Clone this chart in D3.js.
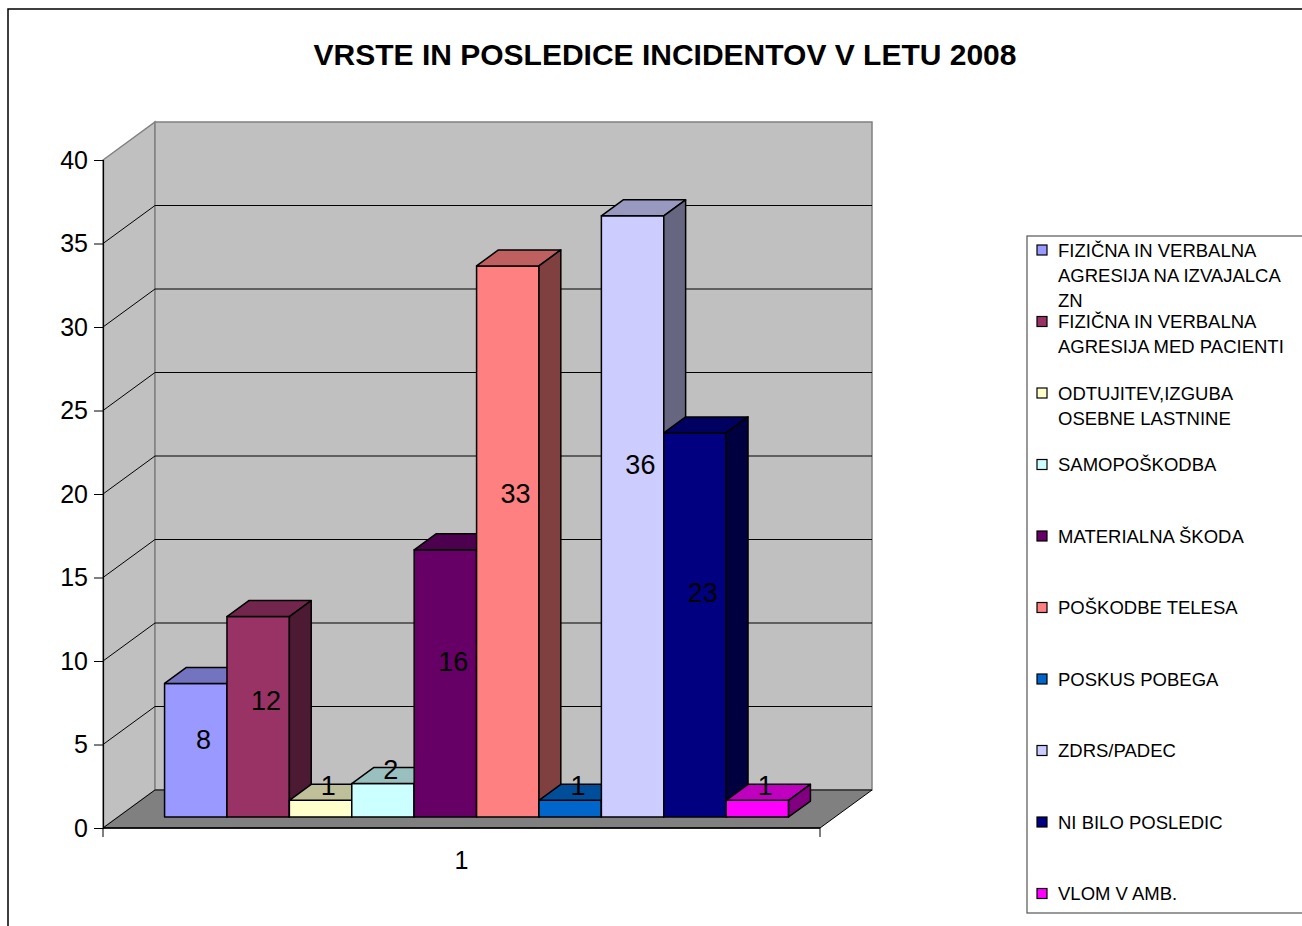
<!DOCTYPE html>
<html>
<head>
<meta charset="utf-8">
<script src="https://cdn.jsdelivr.net/npm/d3@7"></script>
<style>
  body { margin: 0; background: #fff; }
  text { font-family: "Liberation Sans", Arial, sans-serif; }
</style>
</head>
<body>
<div id="chart-container"></div>
<script>
// Data
const series = [
  "FIZIČNA IN VERBALNA AGRESIJA NA IZVAJALCA ZN",
  "FIZIČNA IN VERBALNA AGRESIJA MED PACIENTI",
  "ODTUJITEV,IZGUBA OSEBNE LASTNINE",
  "SAMOPOŠKODBA",
  "MATERIALNA ŠKODA",
  "POŠKODBE TELESA",
  "POSKUS POBEGA",
  "ZDRS/PADEC",
  "NI BILO POSLEDIC",
  "VLOM V AMB."
];
const legendLines = [
  ["FIZIČNA IN VERBALNA", "AGRESIJA NA IZVAJALCA", "ZN"],
  ["FIZIČNA IN VERBALNA", "AGRESIJA MED PACIENTI"],
  ["ODTUJITEV,IZGUBA", "OSEBNE LASTNINE"],
  ["SAMOPOŠKODBA"],
  ["MATERIALNA ŠKODA"],
  ["POŠKODBE TELESA"],
  ["POSKUS POBEGA"],
  ["ZDRS/PADEC"],
  ["NI BILO POSLEDIC"],
  ["VLOM V AMB."]
];
const values = [8, 12, 1, 2, 16, 33, 1, 36, 23, 1];
const colors = ["#9999FF", "#993366", "#FFFFCC", "#CCFFFF", "#660066",
                "#FF8080", "#0066CC", "#CCCCFF", "#000080", "#FF00FF"];
const yTicks = [0, 5, 10, 15, 20, 25, 30, 35, 40];
const category = "1";
const title = "VRSTE IN POSLEDICE INCIDENTOV V LETU 2008";

// Layout
const W = 1302, H = 926;
const plot = {left: 103, right: 820, bottom: 828, top: 160};
const depth = {dx: 52, dy: -38};        // full depth offset of the walls
const barDepth = [0.29, 0.71];           // bars sit in the middle of the depth

const svg = d3.select("#chart-container")
  .append("svg")
  .attr("width", W)
  .attr("height", H);

// chart area border
svg.append("rect")
  .attr("x", 8).attr("y", 9)
  .attr("width", 1330).attr("height", 950)
  .attr("fill", "#fff")
  .attr("stroke", "#000")
  .attr("stroke-width", 1.5);

// Scales
const y = d3.scaleLinear().domain([0, 40]).range([plot.bottom, plot.top]);
const x = d3.scaleBand()
  .domain(series)
  .range([plot.left, plot.right])
  .paddingInner(0)
  .paddingOuter(0.745);

const off = d => [depth.dx * d, depth.dy * d];
const pt = (px, py, d) => [px + off(d)[0], py + off(d)[1]];
const poly = pts => "M" + pts.map(p => p.join(",")).join("L") + "Z";

// Walls and floor
const [bx, by] = off(1);
svg.append("path")
  .attr("d", poly([[plot.left, plot.top], [plot.left + bx, plot.top + by],
                   [plot.left + bx, plot.bottom + by], [plot.left, plot.bottom]]))
  .attr("fill", "#C0C0C0").attr("stroke", "#808080").attr("stroke-width", 1.5);

svg.append("path")
  .attr("d", poly([[plot.left + bx, plot.top + by], [plot.right + bx, plot.top + by],
                   [plot.right + bx, plot.bottom + by], [plot.left + bx, plot.bottom + by]]))
  .attr("fill", "#C0C0C0").attr("stroke", "#808080").attr("stroke-width", 1.5);

svg.append("path")
  .attr("d", poly([[plot.left, plot.bottom], [plot.right, plot.bottom],
                   [plot.right + bx, plot.bottom + by], [plot.left + bx, plot.bottom + by]]))
  .attr("fill", "#808080").attr("stroke", "#000").attr("stroke-width", 1);

// Gridlines on side and back walls
const grid = yTicks.filter(t => t > 0 && t < 40);
svg.selectAll(".grid-side")
  .data(grid)
  .join("line")
  .attr("x1", plot.left).attr("y1", d => y(d))
  .attr("x2", plot.left + bx).attr("y2", d => y(d) + by)
  .attr("stroke", "#000").attr("stroke-width", 1);

svg.selectAll(".grid-back")
  .data(grid)
  .join("line")
  .attr("x1", plot.left + bx).attr("y1", d => y(d) + by)
  .attr("x2", plot.right + bx).attr("y2", d => y(d) + by)
  .attr("stroke", "#000").attr("stroke-width", 1);

// Axes
const yAxis = svg.append("g")
  .attr("transform", `translate(${plot.left},0)`)
  .call(d3.axisLeft(y).tickValues(yTicks).tickSize(9).tickPadding(6));
yAxis.select(".domain").attr("stroke", "#000").attr("stroke-width", 1.2);
yAxis.selectAll("text").attr("font-size", 25).attr("fill", "#000")
  .style("font-family", "'Liberation Sans', Arial, sans-serif");

svg.append("line")
  .attr("x1", plot.left).attr("x2", plot.right)
  .attr("y1", plot.bottom).attr("y2", plot.bottom)
  .attr("stroke", "#000").attr("stroke-width", 1.5);
svg.selectAll(".xtick")
  .data([plot.left, plot.right])
  .join("line")
  .attr("x1", d => d).attr("x2", d => d)
  .attr("y1", plot.bottom).attr("y2", plot.bottom + 9)
  .attr("stroke", "#000");
svg.append("text")
  .attr("x", (plot.left + plot.right) / 2)
  .attr("y", 860)
  .attr("text-anchor", "middle")
  .attr("dominant-baseline", "central")
  .attr("font-size", 25)
  .text(category);

// Bars (3D boxes), left to right
const bars = series.map((s, i) => ({name: s, value: values[i], color: colors[i]}));
const [d0, d1] = barDepth;

const barG = svg.selectAll(".bar")
  .data(bars)
  .join("g")
  .attr("class", "bar");

barG.each(function(d) {
  const g = d3.select(this);
  const xl = x(d.name), xr = x(d.name) + x.bandwidth();
  const yt = y(d.value), yb = y(0);
  const c = d3.color(d.color);
  const shade = k => d3.rgb(c.r * k, c.g * k, c.b * k);
  // front
  g.append("path")
    .attr("d", poly([pt(xl, yt, d0), pt(xr, yt, d0), pt(xr, yb, d0), pt(xl, yb, d0)]))
    .attr("fill", d.color).attr("stroke", "#000").attr("stroke-width", 1.5)
    .attr("stroke-linejoin", "round");
  // top
  g.append("path")
    .attr("d", poly([pt(xl, yt, d0), pt(xr, yt, d0), pt(xr, yt, d1), pt(xl, yt, d1)]))
    .attr("fill", shade(0.75)).attr("stroke", "#000").attr("stroke-width", 1.5)
    .attr("stroke-linejoin", "round");
  // side
  g.append("path")
    .attr("d", poly([pt(xr, yt, d0), pt(xr, yt, d1), pt(xr, yb, d1), pt(xr, yb, d0)]))
    .attr("fill", shade(0.5)).attr("stroke", "#000").attr("stroke-width", 1.5)
    .attr("stroke-linejoin", "round");
});

// Value labels, a little behind the front face
const labelDepth = 0.44;
svg.selectAll(".val")
  .data(bars)
  .join("text")
  .attr("class", "val")
  .attr("x", d => pt(x(d.name) + x.bandwidth() / 2, 0, labelDepth)[0])
  .attr("y", d => pt(0, y(d.value <= 2 ? d.value + 0.5 : d.value * 0.59 - 0.48), labelDepth)[1])
  .attr("text-anchor", "middle")
  .attr("dominant-baseline", "central")
  .attr("font-size", 27)
  .attr("fill", "#000")
  .text(d => d.value);

// Title
svg.append("text")
  .attr("x", 665).attr("y", 54)
  .attr("text-anchor", "middle")
  .attr("dominant-baseline", "central")
  .attr("font-size", 30)
  .attr("font-weight", "bold")
  .text(title);

// Legend
const legend = svg.append("g");
legend.append("rect")
  .attr("x", 1027).attr("y", 236)
  .attr("width", 300).attr("height", 677)
  .attr("fill", "#fff").attr("stroke", "#555").attr("stroke-width", 1.2);

const item = legend.selectAll(".legend")
  .data(bars)
  .join("g")
  .attr("class", "legend")
  .attr("transform", (d, i) => `translate(1037,${250 + i * 71.5})`);

item.append("rect")
  .attr("x", 0).attr("y", -5)
  .attr("width", 10).attr("height", 10)
  .attr("fill", d => d.color)
  .attr("stroke", "#000").attr("stroke-width", 1.2);

item.append("text")
  .attr("x", 21)
  .attr("font-size", 18.5)
  .attr("fill", "#000")
  .selectAll("tspan")
  .data((d, i) => legendLines[i])
  .join("tspan")
  .attr("x", 21)
  .attr("y", (l, j) => j * 25)
  .attr("dominant-baseline", "central")
  .text(l => l);
</script>
</body>
</html>
